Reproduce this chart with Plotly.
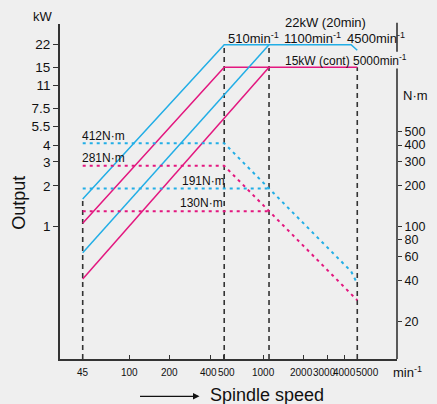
import math
import plotly.graph_objects as go

# ---- data -------------------------------------------------------------
# Output (kW) vs spindle speed (min^-1): 20-min and continuous ratings,
# low-speed winding (reaches rated power at 510) and high-speed winding (1100)
p20_low_speed = [45, 510, 4500, 5000]
p20_low_kw = [1.6, 22, 22, 20]
pcont_low_speed = [45, 510, 5000]
pcont_low_kw = [1.06, 15, 15]
p20_high_speed = [45, 1100]
p20_high_kw = [0.64, 22]
pcont_high_speed = [45, 1100]
pcont_high_kw = [0.41, 15]

# Torque (N·m) vs spindle speed
t20_low_speed = [45, 510, 4500, 5000]
t20_low_nm = [412, 412, 46.7, 38]
tcont_low_speed = [45, 510, 5000]
tcont_low_nm = [281, 281, 28.6]
t20_high_speed = [45, 1100]
t20_high_nm = [191, 191]
tcont_high_speed = [45, 1100]
tcont_high_nm = [130, 130]

# Speed markers (dashed guides) and the output level each one reaches
guide_speed = [45, 510, 1100, 5000]
guide_kw = [1.6, 22, 22, 15]

# Axis ticks
x_tick_vals = [45, 100, 200, 400, 500, 1000, 2000, 3000, 4000, 5000]
x_tick_text = ["45", "100", "200", "400", "500", "1000", "2000", "3000", "4000", "5000"]
kw_tick_vals = [1, 2, 3, 4, 5.5, 7.5, 11, 15, 22]
kw_tick_text = ["1", "2", "3", "4", "5.5", "7.5", "11", "15", "22"]
nm_tick_vals = [20, 40, 60, 80, 100, 200, 300, 400, 500]
nm_tick_text = ["20", "40", "60", "80", "100", "200", "300", "400", "500"]

# ---- styling ----------------------------------------------------------
BLUE = "#22aee6"
PINK = "#e3177f"
GUIDE = "#333333"
BG = "#efefef"
AXIS = "#333333"
FONT = "Liberation Sans, Arial, Helvetica, sans-serif"

X_RANGE = [1.484, 3.995]            # log10 of speed
KW_RANGE = [-0.977, 1.495]          # log10 of kW
NM_RANGE = [KW_RANGE[0] + 2, KW_RANGE[1] + 2]   # torque axis: 100 N·m aligns with 1 kW
kw_floor = 10 ** KW_RANGE[0]

lg = math.log10   # annotations on log axes are positioned in log10 units

fig = go.Figure()

# dashed speed guides, from the bottom of the plot up to the output curve
for s, kw in zip(guide_speed, guide_kw):
    fig.add_trace(go.Scatter(
        x=[s, s], y=[kw_floor, kw], mode="lines",
        line=dict(color=GUIDE, width=1.6, dash="5px,4px"),
        hoverinfo="skip", showlegend=False))

# torque curves (dotted, right axis)
for xs, ys, c in [(t20_low_speed, t20_low_nm, BLUE),
                  (tcont_low_speed, tcont_low_nm, PINK),
                  (t20_high_speed, t20_high_nm, BLUE),
                  (tcont_high_speed, tcont_high_nm, PINK)]:
    fig.add_trace(go.Scatter(
        x=xs, y=ys, yaxis="y2", mode="lines",
        line=dict(color=c, width=2, dash="3px,4px"),
        hoverinfo="skip", showlegend=False))

# output curves (solid, left axis)
for xs, ys, c in [(p20_low_speed, p20_low_kw, BLUE),
                  (pcont_low_speed, pcont_low_kw, PINK),
                  (p20_high_speed, p20_high_kw, BLUE),
                  (pcont_high_speed, pcont_high_kw, PINK)]:
    fig.add_trace(go.Scatter(
        x=xs, y=ys, mode="lines",
        line=dict(color=c, width=1.5),
        hoverinfo="skip", showlegend=False))

ann = []
txt = dict(family=FONT, size=13, color="#111111")
small = dict(family=FONT, size=12, color="#111111")

# x tick labels; crowded labels get a small sideways nudge
nudge = {400: -2, 500: 3, 2000: -2, 3000: -3, 4000: 0, 5000: 10}
for v, t in zip(x_tick_vals, x_tick_text):
    ann.append(dict(x=lg(v), y=0, xref="x", yref="paper", text=t, showarrow=False,
                    xanchor="center", yanchor="top", yshift=-7, xshift=nudge.get(v, 0),
                    borderpad=0, font=dict(family=FONT, size=10, color="#111111")))

# torque labels
ann.append(dict(x=lg(t20_low_speed[0]), y=lg(t20_low_nm[0]), xref="x", yref="y2",
                text=f"{t20_low_nm[0]}N·m", showarrow=False, xanchor="left",
                yanchor="bottom", xshift=-3, yshift=-2, font=small))
ann.append(dict(x=lg(tcont_low_speed[0]), y=lg(tcont_low_nm[0]), xref="x", yref="y2",
                text=f"{tcont_low_nm[0]}N·m", showarrow=False, xanchor="left",
                yanchor="bottom", xshift=-3, yshift=-1, font=small))
ann.append(dict(x=lg(p20_low_speed[1]), y=lg(t20_high_nm[0]), xref="x", yref="y2",
                text=f"{t20_high_nm[0]}N·m", showarrow=False, xanchor="right",
                yanchor="bottom", xshift=3, yshift=-1, font=small))
ann.append(dict(x=lg(p20_low_speed[1]), y=lg(tcont_high_nm[0]), xref="x", yref="y2",
                text=f"{tcont_high_nm[0]}N·m", showarrow=False, xanchor="right",
                yanchor="bottom", xshift=1, yshift=-1, font=small))

# rating labels along the top
ann.append(dict(x=lg(p20_low_speed[1]), y=lg(p20_low_kw[1]), xref="x", yref="y",
                text="510min<sup>-1</sup>", showarrow=False, xanchor="left",
                yanchor="bottom", xshift=2, yshift=-3, font=txt))
ann.append(dict(x=lg(p20_high_speed[1]), y=lg(p20_high_kw[1]), xref="x", yref="y",
                text="1100min<sup>-1</sup>", showarrow=False, xanchor="left",
                yanchor="bottom", xshift=13, yshift=-3, font=txt))
ann.append(dict(x=lg(p20_low_speed[2]), y=lg(p20_low_kw[2]), xref="x", yref="y",
                text="4500min<sup>-1</sup>", showarrow=False, xanchor="left",
                yanchor="bottom", xshift=-6, yshift=-3, font=txt))
ann.append(dict(x=lg(p20_high_speed[1]), y=lg(p20_low_kw[1]), xref="x", yref="y",
                text="22kW (20min)", showarrow=False, xanchor="left",
                yanchor="bottom", xshift=14, yshift=13, font=txt))
ann.append(dict(x=lg(p20_high_speed[1]), y=lg(pcont_low_kw[1]), xref="x", yref="y",
                text="15kW (cont) 5000min<sup>-1</sup>", showarrow=False, xanchor="left",
                yanchor="bottom", xshift=14, yshift=-3,
                font=dict(family=FONT, size=12, color="#111111")))

# axis titles and units
ann += [
    dict(x=-0.049, y=1.022, xref="paper", yref="paper", text="kW", showarrow=False,
         xanchor="center", yanchor="middle", font=txt),
    dict(x=1.013, y=0.786, xref="paper", yref="paper", text="N·m", showarrow=False,
         xanchor="left", yanchor="middle", font=txt),
    dict(x=0.982, y=-0.040, xref="paper", yref="paper", text="min<sup>-1</sup>", showarrow=False,
         xanchor="left", yanchor="middle", font=txt),
    dict(x=-0.124, y=0.467, xref="paper", yref="paper", text="Output", showarrow=False,
         textangle=-90, xanchor="center", yanchor="middle",
         font=dict(family=FONT, size=18, color="#111")),
    dict(x=0.438, y=-0.106, xref="paper", yref="paper", text="Spindle speed", showarrow=False,
         xanchor="left", yanchor="middle", font=dict(family=FONT, size=18, color="#111")),
    dict(x=0.414, y=-0.1115, xref="paper", yref="paper", text="", showarrow=True,
         ax=-61, ay=0, axref="pixel", ayref="pixel", arrowhead=2, arrowsize=1,
         arrowwidth=1.3, arrowcolor="#111"),
]

# right axis line, interrupted behind the top-right labels
shapes = [
    dict(type="line", xref="paper", yref="paper", x0=1, x1=1, y0=0, y1=0.867,
         line=dict(color=AXIS, width=1.6)),
    dict(type="line", xref="paper", yref="paper", x0=1, x1=1, y0=0.917, y1=1.004,
         line=dict(color=AXIS, width=1.6)),
]

fig.update_layout(
    width=437, height=404,
    margin=dict(l=60, r=31, t=24, b=45),
    paper_bgcolor=BG, plot_bgcolor=BG,
    font=dict(family=FONT, size=13, color="#111"),
    showlegend=False,
    annotations=ann,
    shapes=shapes,
    xaxis=dict(type="log", range=X_RANGE, tickmode="array", tickvals=x_tick_vals,
               showticklabels=False, ticks="inside", ticklen=4, tickwidth=1,
               tickcolor=AXIS, showline=True, linecolor=AXIS, linewidth=1.8,
               showgrid=False, zeroline=False, fixedrange=True),
    yaxis=dict(type="log", range=KW_RANGE, tickmode="array", tickvals=kw_tick_vals,
               ticktext=kw_tick_text, ticks="outside", ticklen=5, tickwidth=1.3,
               tickcolor=AXIS, showline=True, linecolor=AXIS, linewidth=1.8,
               showgrid=False, zeroline=False, tickfont=dict(size=13.5)),
    yaxis2=dict(type="log", range=NM_RANGE, overlaying="y", side="right",
                tickmode="array", tickvals=nm_tick_vals, ticktext=nm_tick_text,
                ticks="outside", ticklen=4, tickwidth=1.3, tickcolor=AXIS,
                showline=False, showgrid=False, zeroline=False,
                tickfont=dict(size=12.5)),
)

fig.write_html("out.html")
